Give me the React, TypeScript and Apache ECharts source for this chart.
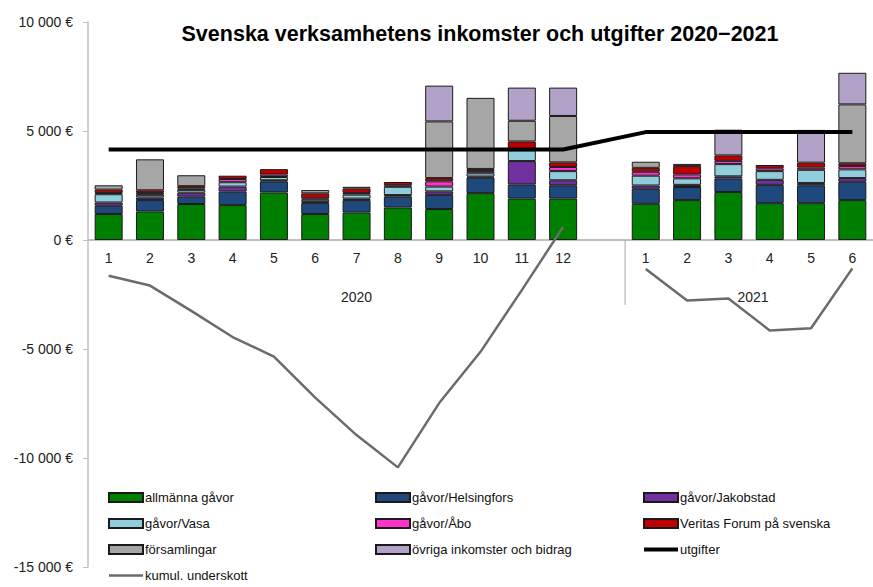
import React, { useEffect, useRef } from "react";
import * as echarts from "echarts";

const categories = ["1", "2", "3", "4", "5", "6", "7", "8", "9", "10", "11", "12", "", "1", "2", "3", "4", "5", "6"];
const years = ["2020", "2021"];
const yTicks = [-15000, -10000, -5000, 0, 5000, 10000];

const allmannaGavor = [1190, 1310, 1650, 1600, 2180, 1190, 1260, 1490, 1420, 2150, 1900, 1900, null, 1660, 1830, 2200, 1690, 1690, 1830];
const gavorHelsingfors = [380, 520, 340, 620, 500, 500, 570, 500, 650, 710, 650, 610, null, 690, 600, 620, 840, 820, 840];
const gavorJakobstad = [150, 120, 180, 230, 60, 60, 70, 70, 160, 50, 1070, 230, null, 150, 100, 100, 230, 100, 170];
const gavorVasa = [380, 120, 130, 200, 150, 100, 180, 380, 220, 150, 500, 420, null, 450, 300, 560, 400, 610, 400];
const gavorAbo = [60, 90, 60, 150, 110, 60, 80, 70, 240, 100, 50, 190, null, 180, 180, 150, 130, 100, 150];
const veritasForum = [150, 120, 110, 150, 250, 230, 200, 150, 150, 100, 350, 210, null, 180, 380, 250, 150, 230, 130];
const forsamlingar = [200, 1420, 500, null, null, 150, 80, null, 2600, 3260, 950, 2130, null, 280, 100, null, null, null, 2700];
const ovriga = [null, null, null, null, null, null, null, null, 1640, null, 1520, 1300, null, null, null, 1180, null, 1500, 1450];
const utgifter = [4150, 4150, 4150, 4150, 4150, 4150, 4150, 4150, 4150, 4150, 4150, 4150, null, 4950, 4950, 4950, 4950, 4950, 4950];
const kumulUnderskott = [-1640, -2090, -3250, -4450, -5350, -7230, -8950, -10430, -7480, -5130, -2300, 600, null, -1330, -2780, -2680, -4150, -4050, -1300];

const FONT = "'Liberation Sans', Arial, sans-serif";

const barSeries = [
  { name: "allmänna gåvor", data: allmannaGavor, color: "#008000" },
  { name: "gåvor/Helsingfors", data: gavorHelsingfors, color: "#1f497d" },
  { name: "gåvor/Jakobstad", data: gavorJakobstad, color: "#7030a0" },
  { name: "gåvor/Vasa", data: gavorVasa, color: "#92cddc" },
  { name: "gåvor/Åbo", data: gavorAbo, color: "#ff33cc" },
  { name: "Veritas Forum på svenska", data: veritasForum, color: "#c00000" },
  { name: "församlingar", data: forsamlingar, color: "#a6a6a6" },
  { name: "övriga inkomster och bidrag", data: ovriga, color: "#b3a2c7" },
];

function fmt(v: number) {
  const s = Math.abs(v).toString().replace(/\B(?=(\d{3})+(?!\d))/g, " ");
  return (v < 0 ? "-" : "") + s + " €";
}

const GRID_TOP = 22;
const GRID_BOTTOM = 20;
const H = 587;

export default function App() {
  const ref = useRef<HTMLDivElement>(null);
  useEffect(() => {
    if (!ref.current) return;
    const chart = echarts.init(ref.current, null, { renderer: "svg" });
    const yMin = yTicks[0];
    const yMax = yTicks[yTicks.length - 1];
    const gridH = H - GRID_TOP - GRID_BOTTOM;
    const zeroOffset = -(gridH * (0 - yMin)) / (yMax - yMin);
    const legendCommon = {
      orient: "vertical" as const,
      top: 491,
      padding: 0,
      itemWidth: 34,
      itemHeight: 9,
      itemGap: 13,
      textStyle: { fontSize: 13, fontFamily: FONT, color: "#111", padding: [0, 0, 0, -3] },
      selectedMode: false,
    };
    chart.setOption({
      animation: false,
      backgroundColor: "#fff",
      title: {
        text: "Svenska verksamhetens inkomster och utgifter 2020−2021",
        left: 475,
        top: 18,
        textAlign: "center",
        textStyle: { fontSize: 21.5, fontWeight: "bold", fontFamily: FONT, color: "#000" },
      },
      grid: { left: 88, right: -5, top: GRID_TOP, bottom: GRID_BOTTOM, containLabel: false },
      legend: [
        { ...legendCommon, left: 108, data: [
          { name: "allmänna gåvor", icon: "rect" },
          { name: "gåvor/Vasa", icon: "rect" },
          { name: "församlingar", icon: "rect" },
          { name: "kumul. underskott", icon: "path://M0,0h34v2.5h-34z" },
        ] },
        { ...legendCommon, left: 375, data: [
          { name: "gåvor/Helsingfors", icon: "rect" },
          { name: "gåvor/Åbo", icon: "rect" },
          { name: "övriga inkomster och bidrag", icon: "rect" },
        ] },
        { ...legendCommon, left: 643, data: [
          { name: "gåvor/Jakobstad", icon: "rect" },
          { name: "Veritas Forum på svenska", icon: "rect" },
          { name: "utgifter", icon: "path://M0,0h34v4h-34z" },
        ] },
      ],
      xAxis: {
        type: "category",
        data: categories,
        boundaryGap: true,
        position: "bottom",
        offset: zeroOffset,
        axisLine: { show: false, onZero: false },
        axisTick: { show: false },
        axisLabel: { show: true, interval: 0, margin: 11, fontSize: 14, fontFamily: FONT, color: "#222" },
      },
      yAxis: {
        type: "value",
        min: yMin,
        max: yMax,
        interval: 5000,
        splitLine: { show: false },
        axisLine: { show: true, lineStyle: { color: "#bfbfbf", width: 1.5 } },
        axisTick: { show: true, length: 5, lineStyle: { color: "#bfbfbf" } },
        axisLabel: { margin: 15, fontSize: 14, fontFamily: FONT, color: "#222", formatter: (v: number) => fmt(v) },
      },
      series: [
        ...barSeries.map((s) => ({
          name: s.name,
          type: "bar",
          stack: "inc",
          data: s.data,
          barWidth: 28,
          itemStyle: { color: s.color, borderColor: "#1a1a1a", borderWidth: 1 },
        })),
        {
          name: "utgifter",
          type: "line",
          data: utgifter,
          connectNulls: true,
          symbol: "none",
          itemStyle: { color: "#000" },
          lineStyle: { color: "#000", width: 4 },
          z: 5,
        },
        {
          name: "kumul. underskott",
          type: "line",
          data: kumulUnderskott,
          connectNulls: false,
          symbol: "none",
          itemStyle: { color: "#6b6b6b" },
          lineStyle: { color: "#6b6b6b", width: 2.5 },
          z: 4,
        },
      ],
    });
    const px = (i: number) => chart.convertToPixel({ xAxisIndex: 0 }, i) as number;
    const y0 = chart.convertToPixel({ yAxisIndex: 0 }, 0) as number;
    const band = px(1) - px(0);
    const xLeft = px(0) - band / 2;
    const xRight = px(categories.length - 1) + band / 2;
    const xSep = (px(12) + px(13)) / 2;
    const x2020 = px(6);
    const x2021 = (px(15) + px(16)) / 2 + 4;
    chart.setOption({
      graphic: [
        { type: "line", z: 1, shape: { x1: xLeft, y1: y0, x2: xRight, y2: y0 }, style: { stroke: "#bfbfbf", lineWidth: 2 } },
        { type: "line", z: 1, shape: { x1: xSep, y1: y0, x2: xSep, y2: y0 + 65 }, style: { stroke: "#a6a6a6", lineWidth: 1 } },
        { type: "text", x: x2020, y: 297, style: { text: years[0], fontSize: 14, fontFamily: FONT, fill: "#222", align: "center", verticalAlign: "middle" } },
        { type: "text", x: x2021, y: 297, style: { text: years[1], fontSize: 14, fontFamily: FONT, fill: "#222", align: "center", verticalAlign: "middle" } },
      ],
    });
    return () => chart.dispose();
  }, []);
  return <div ref={ref} style={{ position: "fixed", left: 0, top: 0, width: 873, height: 587 }} />;
}
